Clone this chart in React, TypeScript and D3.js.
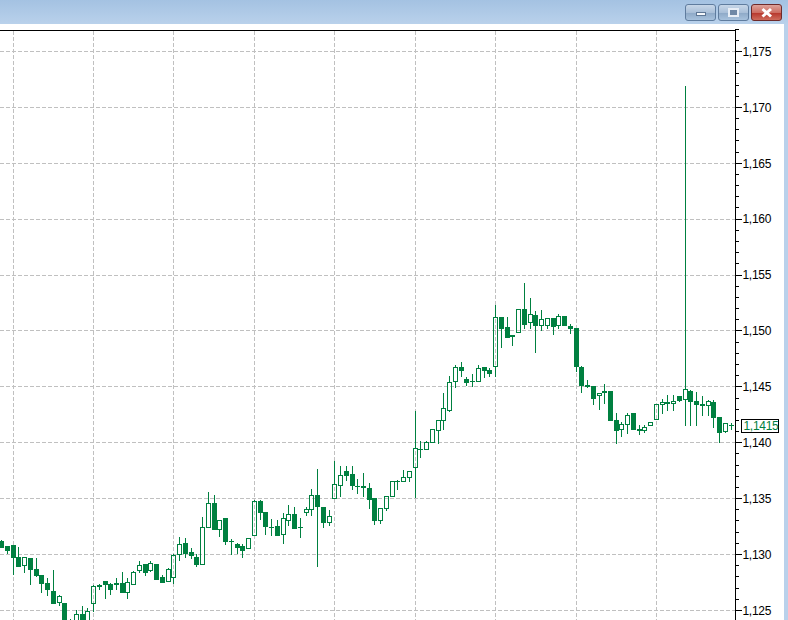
import * as d3 from "d3";
import React from "react";

// price data, one entry per candle
const highs = [
	1.1313, 1.1307, 1.1308, 1.1307, 1.1298, 1.1297, 1.1297, 1.1282, 1.1279, 1.1287, 1.1264, 1.1257, 1.1243, 1.1251, 1.1254, 1.1253,
	1.1273, 1.1274, 1.1277, 1.1275, 1.1279, 1.1285, 1.1279, 1.1286, 1.1295, 1.1292, 1.1295, 1.1292, 1.1282, 1.1288, 1.1301, 1.1316,
	1.1315, 1.1306, 1.1301, 1.1334, 1.1356, 1.1354, 1.1331, 1.1332, 1.1314, 1.1311, 1.1310, 1.1315, 1.1349, 1.1349, 1.1338, 1.1332,
	1.1331, 1.1338, 1.1345, 1.1343, 1.1333, 1.1343, 1.1359, 1.1377, 1.1342, 1.1340, 1.1384, 1.1380, 1.1380, 1.1380, 1.1368, 1.1373,
	1.1364, 1.1350, 1.1341, 1.1352, 1.1365, 1.1367, 1.1376, 1.1374, 1.1429, 1.1402, 1.1402, 1.1412, 1.1421, 1.1445, 1.1460, 1.1470,
	1.1473, 1.1459, 1.1462, 1.1470, 1.1467, 1.1467, 1.1524, 1.1512, 1.1513, 1.1496, 1.1520, 1.1543, 1.1530, 1.1518, 1.1519, 1.1512,
	1.1511, 1.1516, 1.1513, 1.1507, 1.1502, 1.1469, 1.1457, 1.1450, 1.1444, 1.1453, 1.1447, 1.1427, 1.1419, 1.1427, 1.1426, 1.1416,
	1.1416, 1.1418, 1.1435, 1.1440, 1.1443, 1.1443, 1.1442, 1.1720, 1.1448, 1.1446, 1.1442, 1.1439, 1.1439, 1.1423, 1.1418, 1.1418,
];
const lows = [
	1.1306, 1.1301, 1.1282, 1.1289, 1.1284, 1.1273, 1.1280, 1.1266, 1.1263, 1.1256, 1.1254, 1.1238, 1.1235, 1.1236, 1.1236, 1.1238,
	1.1249, 1.1269, 1.1261, 1.1264, 1.1269, 1.1266, 1.1261, 1.1273, 1.1284, 1.1281, 1.1285, 1.1278, 1.1275, 1.1276, 1.1274, 1.1295,
	1.1297, 1.1296, 1.1289, 1.1291, 1.1324, 1.1322, 1.1316, 1.1309, 1.1300, 1.1301, 1.1297, 1.1305, 1.1317, 1.1331, 1.1318, 1.1317,
	1.1317, 1.1310, 1.1326, 1.1323, 1.1315, 1.1335, 1.1335, 1.1289, 1.1324, 1.1326, 1.1350, 1.1352, 1.1366, 1.1358, 1.1355, 1.1352,
	1.1341, 1.1327, 1.1328, 1.1339, 1.1352, 1.1358, 1.1365, 1.1365, 1.1351, 1.1387, 1.1394, 1.1400, 1.1399, 1.1412, 1.1428, 1.1449,
	1.1459, 1.1451, 1.1450, 1.1455, 1.1458, 1.1459, 1.1459, 1.1485, 1.1494, 1.1487, 1.1499, 1.1502, 1.1502, 1.1481, 1.1500, 1.1502,
	1.1497, 1.1502, 1.1505, 1.1498, 1.1464, 1.1445, 1.1449, 1.1434, 1.1430, 1.1435, 1.1420, 1.1399, 1.1406, 1.1408, 1.1412, 1.1407,
	1.1409, 1.1415, 1.1421, 1.1426, 1.1429, 1.1429, 1.1437, 1.1415, 1.1415, 1.1415, 1.1424, 1.1424, 1.1414, 1.1400, 1.1409, 1.1412,
];
const opens = [
	1.1312, 1.1307, 1.1308, 1.1297, 1.1290, 1.1296, 1.1287, 1.1281, 1.1274, 1.1267, 1.1257, 1.1256, 1.1240, 1.1238, 1.1246, 1.1240,
	1.1256, 1.1272, 1.1276, 1.1273, 1.1274, 1.1274, 1.1266, 1.1273, 1.1286, 1.1291, 1.1286, 1.1291, 1.1279, 1.1276, 1.1279, 1.1300,
	1.1310, 1.1302, 1.1297, 1.1291, 1.1324, 1.1346, 1.1322, 1.1332, 1.1312, 1.1309, 1.1307, 1.1305, 1.1317, 1.1347, 1.1338, 1.1324,
	1.1325, 1.1318, 1.1330, 1.1336, 1.1324, 1.1338, 1.1340, 1.1353, 1.1342, 1.1329, 1.1350, 1.1362, 1.1374, 1.1372, 1.1361, 1.1361,
	1.1359, 1.1350, 1.1330, 1.1341, 1.1352, 1.1365, 1.1365, 1.1369, 1.1378, 1.1394, 1.1394, 1.1400, 1.1411, 1.1420, 1.1429, 1.1455,
	1.1467, 1.1457, 1.1455, 1.1455, 1.1467, 1.1465, 1.1468, 1.1512, 1.1503, 1.1496, 1.1499, 1.1519, 1.1508, 1.1514, 1.1505, 1.1505,
	1.1511, 1.1505, 1.1513, 1.1504, 1.1502, 1.1467, 1.1451, 1.1450, 1.1442, 1.1445, 1.1446, 1.1420, 1.1412, 1.1416, 1.1426, 1.1412,
	1.1411, 1.1415, 1.1421, 1.1434, 1.1436, 1.1435, 1.1441, 1.1439, 1.1446, 1.1437, 1.1434, 1.1433, 1.1436, 1.1423, 1.1410, 1.1415,
];
const closes = [
	1.1306, 1.1304, 1.1297, 1.1289, 1.1297, 1.1287, 1.1281, 1.1274, 1.1269, 1.1256, 1.1262, 1.1240, 1.1236, 1.1246, 1.1238, 1.1249,
	1.1271, 1.1271, 1.1273, 1.1269, 1.1273, 1.1266, 1.1275, 1.1284, 1.1290, 1.1284, 1.1292, 1.1278, 1.1275, 1.1287, 1.1299, 1.1309,
	1.1301, 1.1299, 1.1291, 1.1324, 1.1346, 1.1322, 1.1330, 1.1312, 1.1312, 1.1306, 1.1304, 1.1314, 1.1347, 1.1338, 1.1325, 1.1324,
	1.1317, 1.1332, 1.1336, 1.1323, 1.1324, 1.1340, 1.1353, 1.1343, 1.1329, 1.1334, 1.1363, 1.1371, 1.1371, 1.1362, 1.1361, 1.1360,
	1.1349, 1.1330, 1.1341, 1.1352, 1.1365, 1.1365, 1.1369, 1.1374, 1.1395, 1.1394, 1.1400, 1.1412, 1.1420, 1.1431, 1.1454, 1.1467,
	1.1465, 1.1454, 1.1455, 1.1466, 1.1465, 1.1462, 1.1512, 1.1502, 1.1494, 1.1495, 1.1519, 1.1506, 1.1515, 1.1505, 1.1510, 1.1511,
	1.1504, 1.1513, 1.1505, 1.1502, 1.1468, 1.1451, 1.1450, 1.1440, 1.1444, 1.1446, 1.1420, 1.1411, 1.1416, 1.1424, 1.1412, 1.1411,
	1.1414, 1.1418, 1.1434, 1.1436, 1.1435, 1.1437, 1.1438, 1.1448, 1.1437, 1.1434, 1.1433, 1.1437, 1.1423, 1.1409, 1.1417, 1.1415,
];

const priceTicks = [1.125, 1.13, 1.135, 1.14, 1.145, 1.15, 1.155, 1.16, 1.165, 1.17, 1.175];
const priceLabels = ["1,125", "1,130", "1,135", "1,140", "1,145", "1,150", "1,155", "1,160", "1,165", "1,170", "1,175"];
const minorTicks = d3.range(1124, 1178).map((d) => d / 1000);
const gridBars = [2, 16, 30, 44, 58, 72, 86, 100, 114];
const lastPrice = 1.1415;
const lastLabel = "1,1415";

const GREEN = "#008040";
const GRID = "#c0c0c0";
const FONT = "'Liberation Sans', Arial, sans-serif";

const axisX = 735;

const x = d3.scaleLinear().domain([2, 114]).range([13.1, 656.46]);
const y = d3.scaleLinear().domain([1.13, 1.175]).range([554.5, 51.5]);
const px = (v: number) => Math.floor(v) + 0.5;

function CaptionButton({ left, width, isClose }: { left: number; width: number; isClose?: boolean }) {
	return (
		<rect
			x={left + 0.5}
			y={4.5}
			width={width}
			height={16}
			rx={2.5}
			fill={isClose ? "url(#closeBtn)" : "url(#capBtn)"}
			stroke={isClose ? "#6e2a2a" : "#5f7c9e"}
		/>
	);
}

export default function App() {
	return (
		<svg
			width={788}
			height={620}
			viewBox="0 0 788 620"
			style={{ position: "fixed", left: 0, top: 0, display: "block" }}
		>
			<defs>
				<linearGradient id="titleBar" x1="0" x2="0" y1="0" y2="1">
					<stop offset="0" stopColor="#a4c2e2" />
					<stop offset="1" stopColor="#b9d1eb" />
				</linearGradient>
				<linearGradient id="capBtn" x1="0" x2="0" y1="0" y2="1">
					<stop offset="0" stopColor="#c9d8e9" />
					<stop offset="0.5" stopColor="#a9bfd8" />
					<stop offset="0.55" stopColor="#8faac8" />
					<stop offset="1" stopColor="#a9c3de" />
				</linearGradient>
				<linearGradient id="closeBtn" x1="0" x2="0" y1="0" y2="1">
					<stop offset="0" stopColor="#dfa69e" />
					<stop offset="0.5" stopColor="#cd6e62" />
					<stop offset="0.55" stopColor="#b8392e" />
					<stop offset="1" stopColor="#d0705f" />
				</linearGradient>
			</defs>

			{/* window frame */}
			<rect x={0} y={0} width={788} height={24} fill="url(#titleBar)" />
			<rect x={784} y={24} width={4} height={596} fill="#b9d1eb" />
			<rect x={0} y={24} width={784} height={596} fill="#fff" />
			<CaptionButton left={685} width={30} />
			<CaptionButton left={718} width={30} />
			<CaptionButton left={751} width={30} isClose />
			<rect x={696.5} y={12.5} width={9} height={3} fill="#f4f7fb" stroke="#5d7694" shapeRendering="crispEdges" />
			<rect x={728.5} y={8.5} width={9} height={7} fill="#6f88a6" stroke="#e8eef6" strokeWidth={2} shapeRendering="crispEdges" />
			<path d="M762.5 9 L771 16.5 M771 9 L762.5 16.5" stroke="#fff" strokeWidth={3} />

			{/* grid */}
			<g stroke={GRID} strokeDasharray="4 2" shapeRendering="crispEdges">
				{priceTicks.map((t) => (
					<line key={t} x1={0} x2={axisX} y1={px(y(t))} y2={px(y(t))} />
				))}
				{gridBars.map((b) => (
					<line key={b} x1={px(x(b))} x2={px(x(b))} y1={31} y2={620} />
				))}
			</g>

			{/* candles */}
			<g shapeRendering="crispEdges" stroke={GREEN}>
				{opens.map((open, i) => {
					const cx = px(x(i));
					const close = closes[i];
					const up = close > open;
					const top = px(y(Math.max(open, close)));
					const bottom = px(y(Math.min(open, close)));
					return (
						<g key={i}>
							<line x1={cx} x2={cx} y1={px(y(highs[i]))} y2={top} />
							<line x1={cx} x2={cx} y1={bottom} y2={px(y(lows[i]))} />
							{top === bottom ? (
								<line x1={cx - 2.5} x2={cx + 2.5} y1={top} y2={top} />
							) : (
								<rect
									x={cx - 2}
									y={top}
									width={4}
									height={bottom - top}
									fill={up ? "none" : GREEN}
								/>
							)}
						</g>
					);
				})}
			</g>

			{/* price axis */}
			<g stroke="#000" shapeRendering="crispEdges">
				<line x1={0} x2={axisX + 1} y1={30.5} y2={30.5} />
				<line x1={axisX + 0.5} x2={axisX + 0.5} y1={30} y2={620} />
				{minorTicks.map((t) => (
					<line key={t} x1={axisX} x2={axisX + 4} y1={px(y(t))} y2={px(y(t))} />
				))}
				{priceTicks.map((t) => (
					<line key={t} x1={axisX} x2={axisX + 7} y1={px(y(t))} y2={px(y(t))} />
				))}
			</g>
			<g fontFamily={FONT} fontSize={12} letterSpacing={-0.3} fill="#000">
				{priceTicks.map((t, i) => (
					<text key={t} x={742.5} y={y(t)} dy="0.36em">
						{priceLabels[i]}
					</text>
				))}
			</g>

			{/* last price tag */}
			<rect
				x={741.5}
				y={px(y(lastPrice)) - 6.5}
				width={37}
				height={13}
				fill="#fff"
				stroke="#000"
				shapeRendering="crispEdges"
			/>
			<text x={743.5} y={y(lastPrice)} dy="0.36em" fontFamily={FONT} fontSize={12} letterSpacing={-0.3} fill={GREEN}>
				{lastLabel}
			</text>
		</svg>
	);
}
